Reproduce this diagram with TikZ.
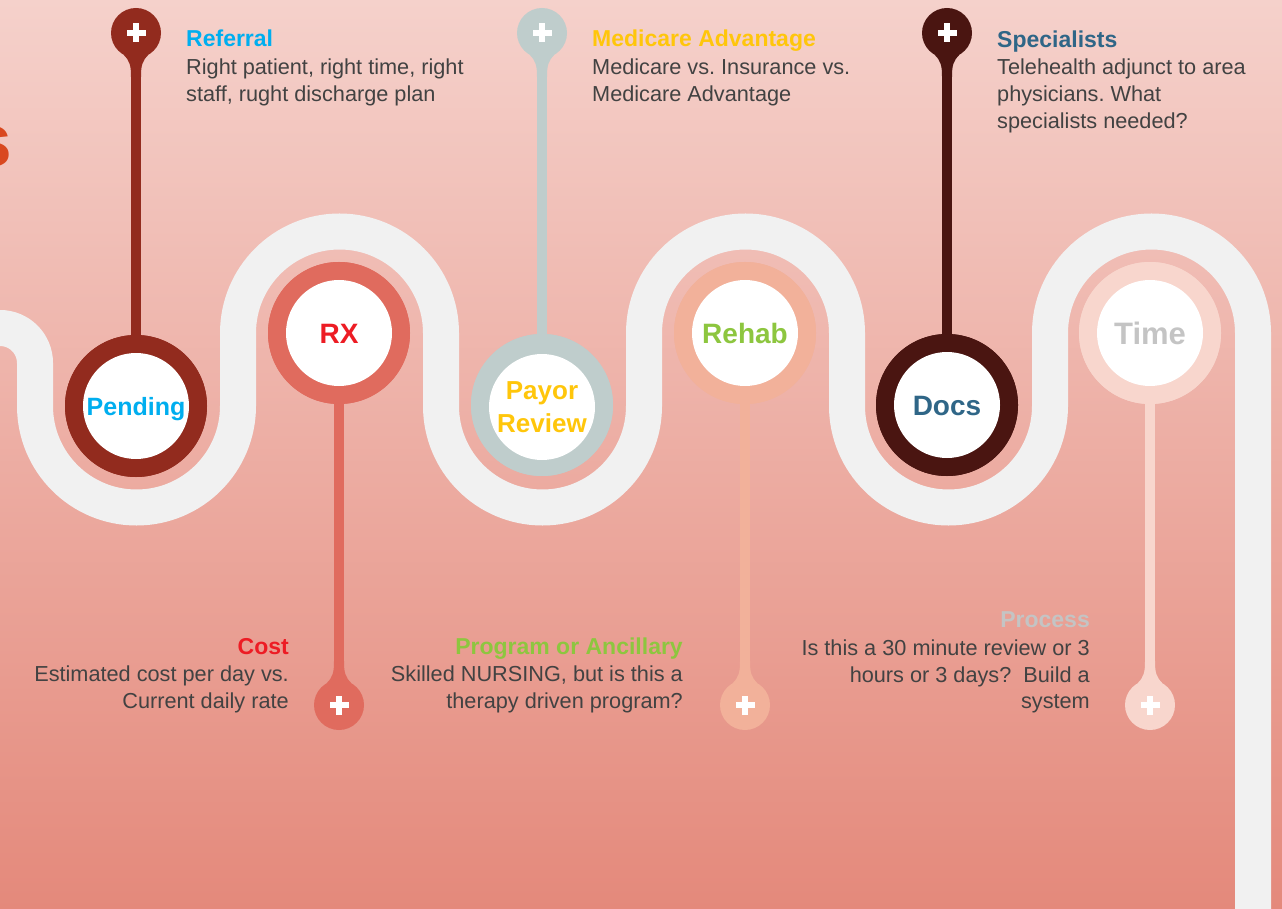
\documentclass[tikz,border=0pt]{standalone}
\usepackage{fontspec}
\setmainfont{Liberation Sans}
\frenchspacing
\definecolor{bgtop}{HTML}{F5D1CB}
\definecolor{bgbot}{HTML}{E4897B}
\definecolor{bandgrey}{HTML}{F1F1F1}
\definecolor{bodytxt}{HTML}{424242}
\definecolor{cPend}{HTML}{922B1E}
\definecolor{cRx}{HTML}{E06B5E}
\definecolor{cPay}{HTML}{BFCDCC}
\definecolor{cReh}{HTML}{F2B19A}
\definecolor{cDoc}{HTML}{4A1511}
\definecolor{cTim}{HTML}{F8D6CD}
\definecolor{tCyan}{HTML}{00AEEF}
\definecolor{tRed}{HTML}{ED1C24}
\definecolor{tYel}{HTML}{FFC60B}
\definecolor{tGrn}{HTML}{8DC63F}
\definecolor{tSteel}{HTML}{2F6687}
\definecolor{tGrey}{HTML}{C4C4C4}
\definecolor{tOrange}{HTML}{D9481F}
\tikzset{
  body/.style={inner sep=0pt, text=bodytxt, font=\fontsize{21.7}{26}\selectfont},
  ttl/.style={inner sep=0pt, font=\bfseries\fontsize{23}{28}\selectfont},
  ringnode/.style={circle, inner sep=0pt, minimum size=142pt},
  core/.style={circle, inner sep=0pt, minimum size=106pt, fill=white, align=center},
  corefont/.style={font=\bfseries\fontsize{28}{30}\selectfont, text height=20pt, text depth=0pt},
  pinhead/.style={circle, inner sep=0pt, minimum size=50pt},
  stemline/.style={line width=10pt},
  bandline/.style={line width=36pt, draw=bandgrey},
}
% pin neck + plus sign: #1 x, #2 y, #3 direction (-1 neck downward, +1 upward), #4 colour
\newcommand{\pinneck}[4]{%
  \fill[#4] ({#1-12.5},{#2+#3*21.7}) .. controls ({#1-6},{#2+#3*28}) and ({#1-5},{#2+#3*33}) .. ({#1-5},{#2+#3*44})
     -- ({#1+5},{#2+#3*44}) .. controls ({#1+5},{#2+#3*33}) and ({#1+6},{#2+#3*28}) .. ({#1+12.5},{#2+#3*21.7}) -- cycle;
  \fill[white] ({#1-9.5},{#2-3}) rectangle ({#1+9.5},{#2+3});
  \fill[white] ({#1-3},{#2-9.5}) rectangle ({#1+3},{#2+9.5});
}
\begin{document}
\begin{tikzpicture}[x=1pt,y=1pt]
\useasboundingbox (0,0) rectangle (1282,-909);
\clip (0,0) rectangle (1282,-909);
\shade[top color=bgtop, bottom color=bgbot] (0,0) rectangle (1282,-909);

% partial title letter
\node[inner sep=0pt, anchor=base east, text=tOrange, font=\bfseries\fontsize{75}{80}\selectfont] (titleS) at (12,-167) {s};

% winding road
\draw[bandline] (-30,-328) -- (0,-328) arc[start angle=90, end angle=0, radius=35pt]
  -- (35,-406) arc[start angle=180, end angle=360, radius=101.5pt]
  -- (238,-333) arc[start angle=180, end angle=0, radius=101.5pt]
  -- (441,-406) arc[start angle=180, end angle=360, radius=101.5pt]
  -- (644,-333) arc[start angle=180, end angle=0, radius=101.5pt]
  -- (847,-406) arc[start angle=180, end angle=360, radius=101.5pt]
  -- (1050,-333) arc[start angle=180, end angle=0, radius=101.5pt]
  -- (1253,-930);

% pin heads
\node[pinhead, fill=cPend] (pin1) at (136,-33) {};
\node[pinhead, fill=cRx]   (pin2) at (339,-705) {};
\node[pinhead, fill=cPay]  (pin3) at (542,-33) {};
\node[pinhead, fill=cReh]  (pin4) at (745,-705) {};
\node[pinhead, fill=cDoc]  (pin5) at (947,-33) {};
\node[pinhead, fill=cTim]  (pin6) at (1150,-705) {};

% rings
\node[ringnode, fill=cPend] (r1) at (136,-406) {};
\node[ringnode, fill=cRx]   (r2) at (339,-333) {};
\node[ringnode, fill=cPay]  (r3) at (542,-405) {};
\node[ringnode, fill=cReh]  (r4) at (745,-333) {};
\node[ringnode, fill=cDoc]  (r5) at (947,-405) {};
\node[ringnode, fill=cTim]  (r6) at (1150,-333) {};

% stems
\draw[stemline, cPend] (pin1.center) -- (r1.center);
\draw[stemline, cRx]   (r2.center) -- (pin2.center);
\draw[stemline, cPay]  (pin3.center) -- (r3.center);
\draw[stemline, cReh]  (r4.center) -- (pin4.center);
\draw[stemline, cDoc]  (pin5.center) -- (r5.center);
\draw[stemline, cTim]  (r6.center) -- (pin6.center);

\pinneck{136}{-33}{-1}{cPend}
\pinneck{339}{-705}{1}{cRx}
\pinneck{542}{-33}{-1}{cPay}
\pinneck{745}{-705}{1}{cReh}
\pinneck{947}{-33}{-1}{cDoc}
\pinneck{1150}{-705}{1}{cTim}

% ring redraw on top of stems
\fill[cPend] (r1.center) circle[radius=71pt];
\fill[cRx]   (r2.center) circle[radius=71pt];
\fill[cPay]  (r3.center) circle[radius=71pt];
\fill[cReh]  (r4.center) circle[radius=71pt];
\fill[cDoc]  (r5.center) circle[radius=71pt];
\fill[cTim]  (r6.center) circle[radius=71pt];

% white cores with labels
\node[core, corefont, text=tCyan, font=\bfseries\fontsize{25}{28}\selectfont, text height=18pt] (c1) at (r1.center) {Pending};
\node[core, corefont, text=tRed] (c2) at (r2.center) {RX};
\node[core, text=tYel, font=\bfseries\fontsize{26}{33}\selectfont] (c3) at ([yshift=-2pt]r3.center) {Payor\\Review};
\node[core, corefont, text=tGrn] (c4) at (r4.center) {Rehab};
\node[core, corefont, text=tSteel] (c5) at (r5.center) {Docs};
\node[core, corefont, text=tGrey, font=\bfseries\fontsize{31}{33}\selectfont, text height=22pt] (c6) at (r6.center) {Time};

% top texts
\node[ttl, text=tCyan, anchor=base west] (t1) at (186,-47) {Referral};
\node[body, anchor=base west] (t1a) at (186,-75) {Right patient, right time, right};
\node[body, anchor=base west] (t1b) at (186,-102) {staff, rught discharge plan};

\node[ttl, text=tYel, anchor=base west] (t3) at (592,-47) {Medicare Advantage};
\node[body, anchor=base west] (t3a) at (592,-75) {Medicare vs. Insurance vs.};
\node[body, anchor=base west] (t3b) at (592,-102) {Medicare Advantage};

\node[ttl, text=tSteel, anchor=base west] (t5) at (997,-48) {Specialists};
\node[body, anchor=base west] (t5a) at (997,-75) {Telehealth adjunct to area};
\node[body, anchor=base west] (t5b) at (997,-102) {physicians. What};
\node[body, anchor=base west] (t5c) at (997,-129) {specialists needed?};

% bottom texts
\node[ttl, text=tRed, anchor=base east] (t2) at (289,-654) {Cost};
\node[body, anchor=base east] (t2a) at (289,-681) {Estimated cost per day vs.};
\node[body, anchor=base east] (t2b) at (289,-708) {Current daily rate};

\node[ttl, text=tGrn, anchor=base east] (t4) at (683,-654) {Program or Ancillary};
\node[body, anchor=base east] (t4a) at (683,-681) {Skilled NURSING, but is this a};
\node[body, anchor=base east] (t4b) at (683,-708) {therapy driven program?};

\node[ttl, text=tGrey, anchor=base east] (t6) at (1090,-627) {Process};
\node[body, anchor=base east] (t6a) at (1090,-655) {Is this a 30 minute review or 3};
\node[body, anchor=base east] (t6b) at (1090,-682) {hours or 3 days?\ \ Build a};
\node[body, anchor=base east] (t6c) at (1090,-708) {system};
\end{tikzpicture}
\end{document}
